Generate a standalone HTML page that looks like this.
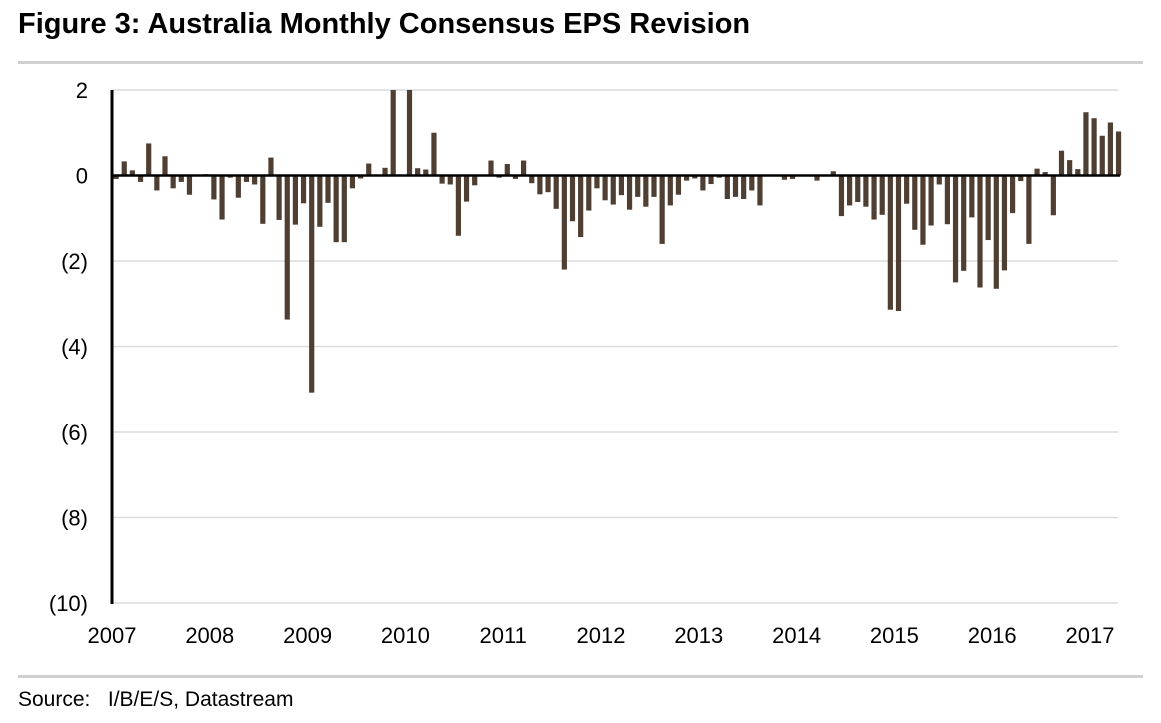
<!DOCTYPE html>
<html><head><meta charset="utf-8"><style>
body{margin:0;background:#fff;width:1161px;height:723px;overflow:hidden;font-family:"Liberation Sans",sans-serif;}
svg{position:absolute;left:0;top:0}
</style></head><body>
<svg id="c" width="1161" height="723">
<text x="18" y="33" font-size="29" font-weight="bold" fill="#000">Figure 3: Australia Monthly Consensus EPS Revision</text>
<rect x="18" y="61" width="1125" height="3" fill="#d0d0d0"/>
<rect x="18" y="675" width="1125" height="3" fill="#d0d0d0"/>
<text x="18" y="706" font-size="21" fill="#000">Source:&#160;&#160; I/B/E/S, Datastream</text>
<g id="grid"></g><g id="bars"></g><g id="axes"></g>
</svg>
<script>
const years=["2007","2008","2009","2010","2011","2012","2013","2014","2015","2016","2017"];
const yTicks=[2,0,-2,-4,-6,-8,-10];
const yTickLabels=["2","0","(2)","(4)","(6)","(8)","(10)"];
const values=[
-0.08,0.33,0.12,-0.15,0.75,-0.35,0.45,-0.3,-0.15,-0.45,0,0.03,
-0.56,-1.03,-0.05,-0.52,-0.15,-0.21,-1.13,0.42,-1.04,-3.37,-1.15,-0.65,
-5.08,-1.2,-0.64,-1.56,-1.56,-0.3,-0.07,0.28,0.02,0.18,2.6,0,
3.1,0.17,0.14,1.0,-0.19,-0.21,-1.41,-0.61,-0.23,-0.02,0.35,-0.05,
0.27,-0.08,0.35,-0.18,-0.44,-0.39,-0.78,-2.2,-1.07,-1.44,-0.82,-0.3,
-0.58,-0.68,-0.46,-0.8,-0.5,-0.73,-0.5,-1.6,-0.7,-0.45,-0.12,-0.07,
-0.35,-0.2,-0.05,-0.55,-0.5,-0.55,-0.35,-0.7,0,0,-0.1,-0.08,
0,0,-0.12,0.02,0.1,-0.95,-0.7,-0.62,-0.73,-1.03,-0.92,-3.14,
-3.17,-0.66,-1.27,-1.62,-1.17,-0.21,-1.14,-2.5,-2.23,-0.98,-2.62,-1.51,
-2.65,-2.22,-0.88,-0.13,-1.6,0.16,0.08,-0.93,0.58,0.36,0.15,1.48,
1.34,0.93,1.24,1.03];
const NS="http://www.w3.org/2000/svg";
const yMax=2,yMin=-10,plotTop=90,plotBot=603,x0=112,monthW=8.15,plotRight=1118;
function yS(v){return plotTop+(yMax-v)/(yMax-yMin)*(plotBot-plotTop);}
function xS(i){return x0+monthW*i;}
function mk(tag,attrs,parent){const e=document.createElementNS(NS,tag);for(const k in attrs)e.setAttribute(k,attrs[k]);parent.appendChild(e);return e;}
const grid=document.getElementById('grid'),barsG=document.getElementById('bars'),axes=document.getElementById('axes');
yTicks.forEach((t,k)=>{
  if(t!==0){const l=mk('line',{x1:x0,x2:plotRight,y1:yS(t),y2:yS(t),stroke:'#dcdcdc','stroke-width':1.5},grid);
  
  }
  const tx=mk('text',{x:88,y:yS(t)+8,'font-size':22,'text-anchor':'end',fill:'#000'},axes);
  tx.textContent=yTickLabels[k];
  
  
});
values.forEach((v,i)=>{
  const vv=Math.max(Math.min(v,yMax),yMin);
  const y1=yS(Math.max(vv,0)),y2=yS(Math.min(vv,0));
  const r=mk('rect',{x:xS(i)+1.5,y:y1,width:5.2,height:Math.max(y2-y1,0.01),fill:'#4f3f33'},barsG);
  
  
});
const za=mk('line',{x1:x0,x2:plotRight+2,y1:yS(0),y2:yS(0),stroke:'#000','stroke-width':2.5},axes);


const ya=mk('line',{x1:x0,x2:x0,y1:plotTop,y2:plotBot+1,stroke:'#000','stroke-width':3},axes);


years.forEach((yr,k)=>{
  const t=mk('text',{x:xS(k*12),y:643,'font-size':22,'text-anchor':'middle',fill:'#000'},axes);
  t.textContent=yr;
  
  
});
</script>
</body></html>
